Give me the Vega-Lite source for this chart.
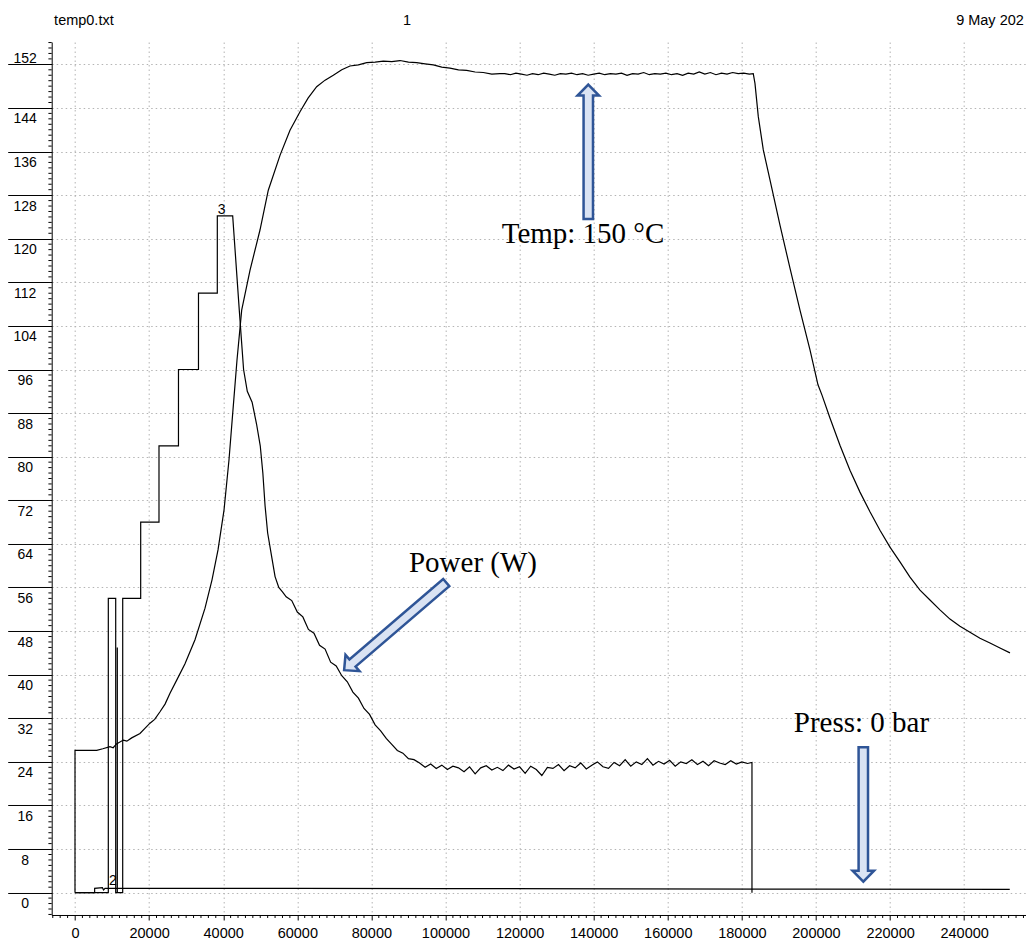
{
  "$schema": "https://vega.github.io/schema/vega-lite/v6.json",
  "width": 974,
  "height": 873,
  "autosize": {"type": "none"},
  "padding": {"left": 51.7, "top": 42, "right": 0, "bottom": 26},
  "background": "white",
  "config": {"view": {"stroke": null}, "font": "Liberation Sans"},
  "resolve": {"axis": {"x": "independent", "y": "independent"}},
  "datasets": {
    "series": [
      {"series": "temp", "x": 0, "y": 0},
      {"series": "temp", "x": 1, "y": 26.1},
      {"series": "temp", "x": 5860, "y": 26.1},
      {"series": "temp", "x": 7500, "y": 26.4},
      {"series": "temp", "x": 9450, "y": 26.8},
      {"series": "temp", "x": 10300, "y": 26.6},
      {"series": "temp", "x": 11200, "y": 27.3},
      {"series": "temp", "x": 13040, "y": 28.0},
      {"series": "temp", "x": 14000, "y": 27.8},
      {"series": "temp", "x": 15300, "y": 28.4},
      {"series": "temp", "x": 17540, "y": 29.2},
      {"series": "temp", "x": 18800, "y": 30.1},
      {"series": "temp", "x": 20240, "y": 31.1},
      {"series": "temp", "x": 21500, "y": 31.8},
      {"series": "temp", "x": 22940, "y": 33.2},
      {"series": "temp", "x": 24300, "y": 34.6},
      {"series": "temp", "x": 25640, "y": 36.6},
      {"series": "temp", "x": 27450, "y": 39.0},
      {"series": "temp", "x": 29690, "y": 42.0},
      {"series": "temp", "x": 32390, "y": 46.4},
      {"series": "temp", "x": 35090, "y": 52.2},
      {"series": "temp", "x": 36980, "y": 57.4},
      {"series": "temp", "x": 38600, "y": 62.9},
      {"series": "temp", "x": 40220, "y": 70.2},
      {"series": "temp", "x": 41560, "y": 79.4},
      {"series": "temp", "x": 42640, "y": 88.6},
      {"series": "temp", "x": 43720, "y": 97.7},
      {"series": "temp", "x": 44990, "y": 106.9},
      {"series": "temp", "x": 47230, "y": 114.2},
      {"series": "temp", "x": 49930, "y": 121.6},
      {"series": "temp", "x": 52170, "y": 128.9},
      {"series": "temp", "x": 55330, "y": 135.3},
      {"series": "temp", "x": 58030, "y": 139.9},
      {"series": "temp", "x": 60730, "y": 143.3},
      {"series": "temp", "x": 62900, "y": 145.8},
      {"series": "temp", "x": 65230, "y": 147.9},
      {"series": "temp", "x": 67500, "y": 149.1},
      {"series": "temp", "x": 69720, "y": 150.0},
      {"series": "temp", "x": 72000, "y": 151.0},
      {"series": "temp", "x": 74220, "y": 151.7},
      {"series": "temp", "x": 76500, "y": 151.9},
      {"series": "temp", "x": 78730, "y": 152.3},
      {"series": "temp", "x": 81000, "y": 152.4},
      {"series": "temp", "x": 83210, "y": 152.6},
      {"series": "temp", "x": 85500, "y": 152.5},
      {"series": "temp", "x": 87720, "y": 152.7},
      {"series": "temp", "x": 90000, "y": 152.4},
      {"series": "temp", "x": 92220, "y": 152.3},
      {"series": "temp", "x": 94500, "y": 152.1},
      {"series": "temp", "x": 96710, "y": 151.9},
      {"series": "temp", "x": 99000, "y": 151.5},
      {"series": "temp", "x": 101200, "y": 151.3},
      {"series": "temp", "x": 103500, "y": 151.0},
      {"series": "temp", "x": 105720, "y": 150.9},
      {"series": "temp", "x": 108000, "y": 150.6},
      {"series": "temp", "x": 110200, "y": 150.5},
      {"series": "temp", "x": 112500, "y": 150.2},
      {"series": "temp", "x": 114700, "y": 150.3},
      {"series": "temp", "x": 116000, "y": 150.3},
      {"series": "temp", "x": 117500, "y": 150.1},
      {"series": "temp", "x": 119000, "y": 150.4},
      {"series": "temp", "x": 120500, "y": 150.2},
      {"series": "temp", "x": 122000, "y": 150.0},
      {"series": "temp", "x": 123500, "y": 150.3},
      {"series": "temp", "x": 125000, "y": 150.1},
      {"series": "temp", "x": 126500, "y": 150.4},
      {"series": "temp", "x": 128000, "y": 150.2},
      {"series": "temp", "x": 129500, "y": 150.0},
      {"series": "temp", "x": 131000, "y": 150.3},
      {"series": "temp", "x": 132500, "y": 150.2},
      {"series": "temp", "x": 134000, "y": 150.4},
      {"series": "temp", "x": 135500, "y": 150.1},
      {"series": "temp", "x": 137000, "y": 150.3},
      {"series": "temp", "x": 138500, "y": 150.0},
      {"series": "temp", "x": 140000, "y": 150.2},
      {"series": "temp", "x": 141500, "y": 150.4},
      {"series": "temp", "x": 143000, "y": 150.1},
      {"series": "temp", "x": 144500, "y": 150.3},
      {"series": "temp", "x": 146000, "y": 150.2},
      {"series": "temp", "x": 147500, "y": 150.4},
      {"series": "temp", "x": 149000, "y": 150.0},
      {"series": "temp", "x": 150500, "y": 150.3},
      {"series": "temp", "x": 152000, "y": 150.2},
      {"series": "temp", "x": 153500, "y": 150.5},
      {"series": "temp", "x": 155000, "y": 150.1},
      {"series": "temp", "x": 156500, "y": 150.3},
      {"series": "temp", "x": 158000, "y": 150.2},
      {"series": "temp", "x": 159500, "y": 150.4},
      {"series": "temp", "x": 161000, "y": 150.1},
      {"series": "temp", "x": 162500, "y": 150.3},
      {"series": "temp", "x": 164000, "y": 150.0},
      {"series": "temp", "x": 165500, "y": 150.4},
      {"series": "temp", "x": 167000, "y": 150.2},
      {"series": "temp", "x": 168500, "y": 150.6},
      {"series": "temp", "x": 170000, "y": 150.2},
      {"series": "temp", "x": 171500, "y": 150.5},
      {"series": "temp", "x": 173000, "y": 150.1},
      {"series": "temp", "x": 174500, "y": 150.4},
      {"series": "temp", "x": 176000, "y": 150.2},
      {"series": "temp", "x": 177500, "y": 150.5},
      {"series": "temp", "x": 179000, "y": 150.3},
      {"series": "temp", "x": 180500, "y": 150.4},
      {"series": "temp", "x": 182000, "y": 150.2},
      {"series": "temp", "x": 183070, "y": 150.3},
      {"series": "temp", "x": 183530, "y": 148.5},
      {"series": "temp", "x": 184430, "y": 142.4},
      {"series": "temp", "x": 185780, "y": 136.3},
      {"series": "temp", "x": 187580, "y": 130.8},
      {"series": "temp", "x": 190280, "y": 122.5},
      {"series": "temp", "x": 192980, "y": 114.6},
      {"series": "temp", "x": 195680, "y": 106.9},
      {"series": "temp", "x": 198380, "y": 99.6},
      {"series": "temp", "x": 200540, "y": 93.2},
      {"series": "temp", "x": 201620, "y": 91.3},
      {"series": "temp", "x": 203770, "y": 87.1},
      {"series": "temp", "x": 206470, "y": 82.1},
      {"series": "temp", "x": 209170, "y": 77.5},
      {"series": "temp", "x": 211870, "y": 73.5},
      {"series": "temp", "x": 214570, "y": 69.9},
      {"series": "temp", "x": 217270, "y": 66.5},
      {"series": "temp", "x": 219970, "y": 63.4},
      {"series": "temp", "x": 222670, "y": 60.7},
      {"series": "temp", "x": 225370, "y": 57.9},
      {"series": "temp", "x": 228070, "y": 55.5},
      {"series": "temp", "x": 230760, "y": 53.7},
      {"series": "temp", "x": 233460, "y": 51.9},
      {"series": "temp", "x": 236160, "y": 50.2},
      {"series": "temp", "x": 238860, "y": 48.9},
      {"series": "temp", "x": 241560, "y": 47.8},
      {"series": "temp", "x": 244260, "y": 46.7},
      {"series": "temp", "x": 246960, "y": 45.8},
      {"series": "temp", "x": 249660, "y": 44.9},
      {"series": "temp", "x": 252360, "y": 44.0},

      {"series": "power", "x": 0, "y": 0},
      {"series": "power", "x": 8990, "y": 0},
      {"series": "power", "x": 8991, "y": 54},
      {"series": "power", "x": 10985, "y": 54},
      {"series": "power", "x": 10986, "y": 0},
      {"series": "power", "x": 11419, "y": 0},
      {"series": "power", "x": 11420, "y": 45},
      {"series": "power", "x": 11421, "y": 0},
      {"series": "power", "x": 12875, "y": 0},
      {"series": "power", "x": 12876, "y": 54},
      {"series": "power", "x": 17730, "y": 54},
      {"series": "power", "x": 17731, "y": 68},
      {"series": "power", "x": 22670, "y": 68},
      {"series": "power", "x": 22671, "y": 82},
      {"series": "power", "x": 27930, "y": 82},
      {"series": "power", "x": 27931, "y": 96},
      {"series": "power", "x": 33330, "y": 96},
      {"series": "power", "x": 33331, "y": 110},
      {"series": "power", "x": 38410, "y": 110},
      {"series": "power", "x": 38411, "y": 124.2},
      {"series": "power", "x": 42560, "y": 124.2},
      {"series": "power", "x": 44340, "y": 106.9},
      {"series": "power", "x": 45500, "y": 96},
      {"series": "power", "x": 46500, "y": 92},
      {"series": "power", "x": 47800, "y": 90},
      {"series": "power", "x": 49000, "y": 86},
      {"series": "power", "x": 50000, "y": 82},
      {"series": "power", "x": 50700, "y": 77},
      {"series": "power", "x": 51300, "y": 71},
      {"series": "power", "x": 52000, "y": 66},
      {"series": "power", "x": 53000, "y": 62},
      {"series": "power", "x": 54000, "y": 58},
      {"series": "power", "x": 55000, "y": 56},
      {"series": "power", "x": 56000, "y": 55.2},
      {"series": "power", "x": 57000, "y": 54.3},
      {"series": "power", "x": 58500, "y": 53.6},
      {"series": "power", "x": 60000, "y": 51.5},
      {"series": "power", "x": 61500, "y": 50.6},
      {"series": "power", "x": 63000, "y": 48.3},
      {"series": "power", "x": 64500, "y": 47.6},
      {"series": "power", "x": 66000, "y": 45.4},
      {"series": "power", "x": 67500, "y": 44.7},
      {"series": "power", "x": 69000, "y": 42.3},
      {"series": "power", "x": 70500, "y": 41.6},
      {"series": "power", "x": 72000, "y": 39.8},
      {"series": "power", "x": 73500, "y": 38.7},
      {"series": "power", "x": 75000, "y": 36.8},
      {"series": "power", "x": 76500, "y": 35.7},
      {"series": "power", "x": 78000, "y": 33.8},
      {"series": "power", "x": 79500, "y": 32.7},
      {"series": "power", "x": 81000, "y": 30.8},
      {"series": "power", "x": 82500, "y": 29.7},
      {"series": "power", "x": 84000, "y": 28.3},
      {"series": "power", "x": 85500, "y": 27.2},
      {"series": "power", "x": 87000, "y": 26.1},
      {"series": "power", "x": 88500, "y": 25.6},
      {"series": "power", "x": 90000, "y": 24.6},
      {"series": "power", "x": 91500, "y": 24.4},
      {"series": "power", "x": 93000, "y": 23.8},
      {"series": "power", "x": 94500, "y": 23.0},
      {"series": "power", "x": 96000, "y": 23.6},
      {"series": "power", "x": 97500, "y": 22.8},
      {"series": "power", "x": 99000, "y": 23.4},
      {"series": "power", "x": 100500, "y": 22.6},
      {"series": "power", "x": 102000, "y": 23.2},
      {"series": "power", "x": 103500, "y": 22.9},
      {"series": "power", "x": 105000, "y": 22.2},
      {"series": "power", "x": 106500, "y": 23.1},
      {"series": "power", "x": 108000, "y": 21.8},
      {"series": "power", "x": 109500, "y": 22.9},
      {"series": "power", "x": 111000, "y": 23.3},
      {"series": "power", "x": 112500, "y": 22.5},
      {"series": "power", "x": 114000, "y": 23.0},
      {"series": "power", "x": 115500, "y": 22.4},
      {"series": "power", "x": 117000, "y": 23.4},
      {"series": "power", "x": 118500, "y": 22.7},
      {"series": "power", "x": 120000, "y": 23.1},
      {"series": "power", "x": 121500, "y": 21.9},
      {"series": "power", "x": 123000, "y": 23.2},
      {"series": "power", "x": 124500, "y": 22.6},
      {"series": "power", "x": 126000, "y": 21.5},
      {"series": "power", "x": 127500, "y": 23.0},
      {"series": "power", "x": 129000, "y": 22.8},
      {"series": "power", "x": 130500, "y": 23.5},
      {"series": "power", "x": 132000, "y": 22.4},
      {"series": "power", "x": 133500, "y": 23.3},
      {"series": "power", "x": 135000, "y": 22.9},
      {"series": "power", "x": 136500, "y": 23.8},
      {"series": "power", "x": 138000, "y": 22.7},
      {"series": "power", "x": 139500, "y": 23.4},
      {"series": "power", "x": 141000, "y": 24.0},
      {"series": "power", "x": 142500, "y": 23.1},
      {"series": "power", "x": 144000, "y": 22.8},
      {"series": "power", "x": 145500, "y": 23.9},
      {"series": "power", "x": 147000, "y": 23.3},
      {"series": "power", "x": 148500, "y": 24.4},
      {"series": "power", "x": 150000, "y": 23.2},
      {"series": "power", "x": 151500, "y": 24.0},
      {"series": "power", "x": 153000, "y": 23.5},
      {"series": "power", "x": 154500, "y": 24.6},
      {"series": "power", "x": 156000, "y": 23.4},
      {"series": "power", "x": 157500, "y": 24.1},
      {"series": "power", "x": 159000, "y": 23.6},
      {"series": "power", "x": 160500, "y": 24.3},
      {"series": "power", "x": 162000, "y": 23.2},
      {"series": "power", "x": 163500, "y": 24.0},
      {"series": "power", "x": 165000, "y": 23.7},
      {"series": "power", "x": 166500, "y": 24.4},
      {"series": "power", "x": 168000, "y": 23.5},
      {"series": "power", "x": 169500, "y": 24.1},
      {"series": "power", "x": 171000, "y": 23.3},
      {"series": "power", "x": 172500, "y": 24.2},
      {"series": "power", "x": 174000, "y": 23.8},
      {"series": "power", "x": 175500, "y": 23.5},
      {"series": "power", "x": 177000, "y": 24.2},
      {"series": "power", "x": 178500, "y": 23.6},
      {"series": "power", "x": 180000, "y": 24.0},
      {"series": "power", "x": 181500, "y": 23.7},
      {"series": "power", "x": 182720, "y": 23.9},
      {"series": "power", "x": 182721, "y": 0},

      {"series": "press", "x": 0, "y": 0},
      {"series": "press", "x": 5300, "y": 0},
      {"series": "press", "x": 5301, "y": 0.8},
      {"series": "press", "x": 7400, "y": 0.9},
      {"series": "press", "x": 7700, "y": 0.5},
      {"series": "press", "x": 8100, "y": 0.8},
      {"series": "press", "x": 30000, "y": 0.8},
      {"series": "press", "x": 60000, "y": 0.8},
      {"series": "press", "x": 100000, "y": 0.75},
      {"series": "press", "x": 150000, "y": 0.7},
      {"series": "press", "x": 200000, "y": 0.65},
      {"series": "press", "x": 252300, "y": 0.6}
    ],
    "notes": [
      {"label": "Temp: 150 °C", "x": 137110, "y": 119.2},
      {"label": "Power (W)", "x": 107420, "y": 58.9},
      {"label": "Press: 0 bar", "x": 212270, "y": 29.5}
    ],
    "tags": [
      {"label": "3", "x": 39590, "y": 124.6},
      {"label": "2", "x": 10256, "y": 1.4}
    ],
    "header": [
      {"label": "temp0.txt", "x": 2400, "y": 159.2},
      {"label": "1", "x": 89610, "y": 159.2},
      {"label": "9 May 202", "x": 246960, "y": 159.2}
    ],
    "arrows": [
      {"name": "temp", "x": 138540, "y": 135.96},
      {"name": "press", "x": 212770, "y": 14.35},
      {"name": "power", "x": 86420, "y": 48.86}
    ],
    "xminor": [
      {"v": -6000}, {"v": -4000}, {"v": -2000}, {"v": 2000}, {"v": 4000}, {"v": 6000}, {"v": 8000}, {"v": 10000}, {"v": 12000}, {"v": 14000}, {"v": 16000}, {"v": 18000},
      {"v": 22000}, {"v": 24000}, {"v": 26000}, {"v": 28000}, {"v": 30000}, {"v": 32000}, {"v": 34000}, {"v": 36000}, {"v": 38000},
      {"v": 42000}, {"v": 44000}, {"v": 46000}, {"v": 48000}, {"v": 50000}, {"v": 52000}, {"v": 54000}, {"v": 56000}, {"v": 58000},
      {"v": 62000}, {"v": 64000}, {"v": 66000}, {"v": 68000}, {"v": 70000}, {"v": 72000}, {"v": 74000}, {"v": 76000}, {"v": 78000},
      {"v": 82000}, {"v": 84000}, {"v": 86000}, {"v": 88000}, {"v": 90000}, {"v": 92000}, {"v": 94000}, {"v": 96000}, {"v": 98000},
      {"v": 102000}, {"v": 104000}, {"v": 106000}, {"v": 108000}, {"v": 110000}, {"v": 112000}, {"v": 114000}, {"v": 116000}, {"v": 118000},
      {"v": 122000}, {"v": 124000}, {"v": 126000}, {"v": 128000}, {"v": 130000}, {"v": 132000}, {"v": 134000}, {"v": 136000}, {"v": 138000},
      {"v": 142000}, {"v": 144000}, {"v": 146000}, {"v": 148000}, {"v": 150000}, {"v": 152000}, {"v": 154000}, {"v": 156000}, {"v": 158000},
      {"v": 162000}, {"v": 164000}, {"v": 166000}, {"v": 168000}, {"v": 170000}, {"v": 172000}, {"v": 174000}, {"v": 176000}, {"v": 178000},
      {"v": 182000}, {"v": 184000}, {"v": 186000}, {"v": 188000}, {"v": 190000}, {"v": 192000}, {"v": 194000}, {"v": 196000}, {"v": 198000},
      {"v": 202000}, {"v": 204000}, {"v": 206000}, {"v": 208000}, {"v": 210000}, {"v": 212000}, {"v": 214000}, {"v": 216000}, {"v": 218000},
      {"v": 222000}, {"v": 224000}, {"v": 226000}, {"v": 228000}, {"v": 230000}, {"v": 232000}, {"v": 234000}, {"v": 236000}, {"v": 238000},
      {"v": 242000}, {"v": 244000}, {"v": 246000}, {"v": 248000}, {"v": 250000}, {"v": 252000}, {"v": 254000}, {"v": 256000}
    ],
    "yminor": [
      {"v": -4}, {"v": -3}, {"v": -2}, {"v": -1}, {"v": 1}, {"v": 2}, {"v": 3}, {"v": 4}, {"v": 5}, {"v": 6}, {"v": 7},
      {"v": 9}, {"v": 10}, {"v": 11}, {"v": 12}, {"v": 13}, {"v": 14}, {"v": 15},
      {"v": 17}, {"v": 18}, {"v": 19}, {"v": 20}, {"v": 21}, {"v": 22}, {"v": 23},
      {"v": 25}, {"v": 26}, {"v": 27}, {"v": 28}, {"v": 29}, {"v": 30}, {"v": 31},
      {"v": 33}, {"v": 34}, {"v": 35}, {"v": 36}, {"v": 37}, {"v": 38}, {"v": 39},
      {"v": 41}, {"v": 42}, {"v": 43}, {"v": 44}, {"v": 45}, {"v": 46}, {"v": 47},
      {"v": 49}, {"v": 50}, {"v": 51}, {"v": 52}, {"v": 53}, {"v": 54}, {"v": 55},
      {"v": 57}, {"v": 58}, {"v": 59}, {"v": 60}, {"v": 61}, {"v": 62}, {"v": 63},
      {"v": 65}, {"v": 66}, {"v": 67}, {"v": 68}, {"v": 69}, {"v": 70}, {"v": 71},
      {"v": 73}, {"v": 74}, {"v": 75}, {"v": 76}, {"v": 77}, {"v": 78}, {"v": 79},
      {"v": 81}, {"v": 82}, {"v": 83}, {"v": 84}, {"v": 85}, {"v": 86}, {"v": 87},
      {"v": 89}, {"v": 90}, {"v": 91}, {"v": 92}, {"v": 93}, {"v": 94}, {"v": 95},
      {"v": 97}, {"v": 98}, {"v": 99}, {"v": 100}, {"v": 101}, {"v": 102}, {"v": 103},
      {"v": 105}, {"v": 106}, {"v": 107}, {"v": 108}, {"v": 109}, {"v": 110}, {"v": 111},
      {"v": 113}, {"v": 114}, {"v": 115}, {"v": 116}, {"v": 117}, {"v": 118}, {"v": 119},
      {"v": 121}, {"v": 122}, {"v": 123}, {"v": 124}, {"v": 125}, {"v": 126}, {"v": 127},
      {"v": 129}, {"v": 130}, {"v": 131}, {"v": 132}, {"v": 133}, {"v": 134}, {"v": 135},
      {"v": 137}, {"v": 138}, {"v": 139}, {"v": 140}, {"v": 141}, {"v": 142}, {"v": 143},
      {"v": 145}, {"v": 146}, {"v": 147}, {"v": 148}, {"v": 149}, {"v": 150}, {"v": 151},
      {"v": 153}, {"v": 154}, {"v": 155}, {"v": 156}
    ]
  },
  "layer": [
    {
      "data": {"name": "notes"},
      "mark": {"type": "text", "font": "Liberation Serif", "fontSize": 29, "align": "center", "baseline": "alphabetic", "color": "black"},
      "encoding": {
        "x": {"field": "x", "type": "quantitative",
          "scale": {"domain": [-6290, 256600], "nice": false, "zero": false},
          "axis": {"orient": "bottom", "values": [0, 20000, 40000, 60000, 80000, 100000, 120000, 140000, 160000, 180000, 200000, 220000, 240000], "format": "d", "labelFont": "Liberation Sans", "labelFontSize": 14.5, "labelColor": "black", "labelBaseline": "top", "labelPadding": 7, "labelFlush": false, "labelOverlap": false, "tickSize": 5, "tickColor": "black", "domain": true, "domainColor": "black", "grid": true, "gridColor": "#b4b4b4", "gridDash": [1.5, 3], "gridWidth": 1, "title": null}},
        "y": {"field": "y", "type": "quantitative",
          "scale": {"domain": [-4.1, 156.1], "nice": false, "zero": false},
          "axis": {"orient": "left", "values": [0, 8, 16, 24, 32, 40, 48, 56, 64, 72, 80, 88, 96, 104, 112, 120, 128, 136, 144, 152], "labelFont": "Liberation Sans", "labelFontSize": 14, "labelColor": "black", "labelAlign": "center", "labelPadding": -17,
            "labelBaseline": {"condition": {"test": "datum.value > 150", "value": "alphabetic"}, "value": "top"},
            "labelOffset": {"condition": {"test": "datum.value > 150", "value": -1.6}, "value": 4},
            "labelFlush": false, "labelOverlap": false, "tickSize": 44, "tickColor": "black", "domain": true, "domainColor": "black", "grid": true, "gridColor": "#b4b4b4", "gridDash": [1.5, 3], "gridWidth": 1, "title": null}},
        "text": {"field": "label", "type": "nominal"}
      }
    },
    {
      "data": {"name": "xminor"},
      "mark": {"type": "rule", "color": "black", "strokeWidth": 1, "clip": false},
      "encoding": {
        "x": {"field": "v", "type": "quantitative", "scale": {"domain": [-6290, 256600], "nice": false, "zero": false}, "axis": null},
        "y": {"datum": -4.1, "type": "quantitative", "scale": {"domain": [-4.1, 156.1], "nice": false, "zero": false}, "axis": null},
        "y2": {"datum": -4.65}
      }
    },
    {
      "data": {"name": "yminor"},
      "mark": {"type": "rule", "color": "black", "strokeWidth": 1, "clip": false},
      "encoding": {
        "y": {"field": "v", "type": "quantitative", "scale": {"domain": [-4.1, 156.1], "nice": false, "zero": false}, "axis": null},
        "x": {"datum": -6290, "type": "quantitative", "scale": {"domain": [-6290, 256600], "nice": false, "zero": false}, "axis": null},
        "x2": {"datum": -7180}
      }
    },
    {
      "data": {"name": "series"},
      "mark": {"type": "line", "color": "black", "strokeWidth": 1.2},
      "encoding": {
        "x": {"field": "x", "type": "quantitative", "scale": {"domain": [-6290, 256600], "nice": false, "zero": false}, "axis": null},
        "y": {"field": "y", "type": "quantitative", "scale": {"domain": [-4.1, 156.1], "nice": false, "zero": false}, "axis": null},
        "detail": {"field": "series", "type": "nominal"}
      }
    },
    {
      "data": {"name": "tags"},
      "mark": {"type": "text", "font": "Liberation Sans", "fontSize": 14, "align": "center", "baseline": "alphabetic", "color": "black"},
      "encoding": {
        "x": {"field": "x", "type": "quantitative", "scale": {"domain": [-6290, 256600], "nice": false, "zero": false}, "axis": null},
        "y": {"field": "y", "type": "quantitative", "scale": {"domain": [-4.1, 156.1], "nice": false, "zero": false}, "axis": null},
        "text": {"field": "label", "type": "nominal"}
      }
    },
    {
      "data": {"name": "header"},
      "mark": {"type": "text", "font": "Liberation Sans", "fontSize": 14.5, "align": "center", "baseline": "alphabetic", "color": "black"},
      "encoding": {
        "x": {"field": "x", "type": "quantitative", "scale": {"domain": [-6290, 256600], "nice": false, "zero": false}, "axis": null},
        "y": {"field": "y", "type": "quantitative", "scale": {"domain": [-4.1, 156.1], "nice": false, "zero": false}, "axis": null},
        "text": {"field": "label", "type": "nominal"}
      }
    },
    {
      "data": {"name": "arrows"},
      "transform": [{"filter": "datum.name === 'temp'"}],
      "mark": {"type": "point", "shape": "M0,-1L0.16,-0.836L0.07,-0.836L0.07,1L-0.07,1L-0.07,-0.836L-0.16,-0.836Z", "size": 18090, "filled": true, "fill": "#DAE3F3", "stroke": "#2F5597", "strokeWidth": 2.5, "opacity": 1, "angle": 0},
      "encoding": {
        "x": {"field": "x", "type": "quantitative", "scale": {"domain": [-6290, 256600], "nice": false, "zero": false}, "axis": null},
        "y": {"field": "y", "type": "quantitative", "scale": {"domain": [-4.1, 156.1], "nice": false, "zero": false}, "axis": null}
      }
    },
    {
      "data": {"name": "arrows"},
      "transform": [{"filter": "datum.name === 'press'"}],
      "mark": {"type": "point", "shape": "M0,-1L0.16,-0.836L0.07,-0.836L0.07,1L-0.07,1L-0.07,-0.836L-0.16,-0.836Z", "size": 18090, "filled": true, "fill": "#DAE3F3", "stroke": "#2F5597", "strokeWidth": 2.5, "opacity": 1, "angle": 180},
      "encoding": {
        "x": {"field": "x", "type": "quantitative", "scale": {"domain": [-6290, 256600], "nice": false, "zero": false}, "axis": null},
        "y": {"field": "y", "type": "quantitative", "scale": {"domain": [-4.1, 156.1], "nice": false, "zero": false}, "axis": null}
      }
    },
    {
      "data": {"name": "arrows"},
      "transform": [{"filter": "datum.name === 'power'"}],
      "mark": {"type": "point", "shape": "M0,-1L0.16,-0.836L0.07,-0.836L0.07,1L-0.07,1L-0.07,-0.836L-0.16,-0.836Z", "size": 18090, "filled": true, "fill": "#DAE3F3", "stroke": "#2F5597", "strokeWidth": 2.5, "opacity": 1, "angle": 229.4},
      "encoding": {
        "x": {"field": "x", "type": "quantitative", "scale": {"domain": [-6290, 256600], "nice": false, "zero": false}, "axis": null},
        "y": {"field": "y", "type": "quantitative", "scale": {"domain": [-4.1, 156.1], "nice": false, "zero": false}, "axis": null}
      }
    }
  ]
}
